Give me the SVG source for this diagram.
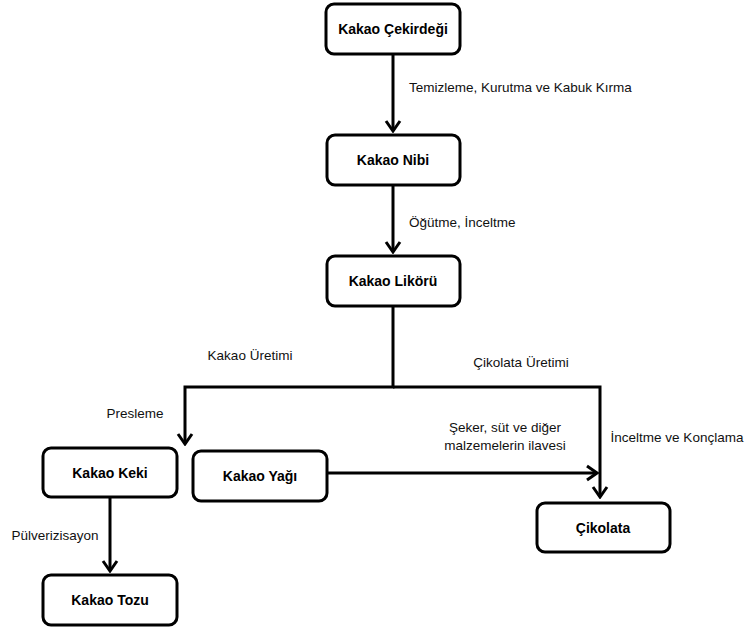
<svg xmlns="http://www.w3.org/2000/svg" width="746" height="627" viewBox="0 0 746 627">
<style>
.box{fill:#fff;stroke:#000;stroke-width:3}
.nt{font-family:"Liberation Sans",Arial,sans-serif;font-weight:bold;font-size:14px;text-anchor:middle;fill:#000}
.lb{font-family:"Liberation Sans",Arial,sans-serif;font-size:13.5px;fill:#111}
.cn{fill:none;stroke:#000;stroke-width:3}
</style>
<defs>
<marker id="ah" viewBox="0 0 14 18" refX="12" refY="9" markerWidth="14" markerHeight="18" orient="auto" markerUnits="userSpaceOnUse">
<path d="M2,2 L12,9 L2,16" fill="none" stroke="#000" stroke-width="3"/>
</marker>
</defs>
<rect width="746" height="627" fill="#fff"/>
<g id="connectors">
<path class="cn" d="M393,54 V131" marker-end="url(#ah)"/>
<path class="cn" d="M393,185 V252" marker-end="url(#ah)"/>
<path class="cn" d="M393,306 V387 H185 V444" marker-end="url(#ah)"/>
<path class="cn" d="M393,387 H600 V497" marker-end="url(#ah)"/>
<path class="cn" d="M328,473 H597" marker-end="url(#ah)"/>
<path class="cn" d="M110,498 V571" marker-end="url(#ah)"/>
</g>
<g id="labels">
<text class="lb" x="409" y="92">Temizleme, Kurutma ve Kabuk Kırma</text>
<text class="lb" x="409" y="227">Öğütme, İnceltme</text>
<text class="lb" x="250" y="360" text-anchor="middle">Kakao Üretimi</text>
<text class="lb" x="521" y="367" text-anchor="middle">Çikolata Üretimi</text>
<text class="lb" x="135" y="418" text-anchor="middle">Presleme</text>
<text class="lb" x="505" y="432" text-anchor="middle">Şeker, süt ve diğer</text>
<text class="lb" x="505" y="450" text-anchor="middle">malzemelerin ilavesi</text>
<text class="lb" x="677" y="442" text-anchor="middle">İnceltme ve Konçlama</text>
<text class="lb" x="55" y="540" text-anchor="middle">Pülverizisayon</text>
</g>
<g id="n-cekirdek"><rect class="box" x="326" y="4" width="134" height="50" rx="8"/><text class="nt" x="393" y="34">Kakao Çekirdeği</text></g>
<g id="n-nibi"><rect class="box" x="327" y="135" width="133" height="50" rx="8"/><text class="nt" x="393" y="165">Kakao Nibi</text></g>
<g id="n-likor"><rect class="box" x="327" y="256" width="133" height="50" rx="8"/><text class="nt" x="393" y="286">Kakao Likörü</text></g>
<g id="n-keki"><rect class="box" x="43" y="448" width="134" height="49" rx="8"/><text class="nt" x="110" y="478">Kakao Keki</text></g>
<g id="n-yag"><rect class="box" x="193" y="451" width="134" height="50" rx="8"/><text class="nt" x="260" y="481">Kakao Yağı</text></g>
<g id="n-cikolata"><rect class="box" x="537" y="503" width="133" height="49" rx="8"/><text class="nt" x="603" y="533">Çikolata</text></g>
<g id="n-tozu"><rect class="box" x="43" y="575" width="134" height="50" rx="8"/><text class="nt" x="110" y="605">Kakao Tozu</text></g>
</svg>
